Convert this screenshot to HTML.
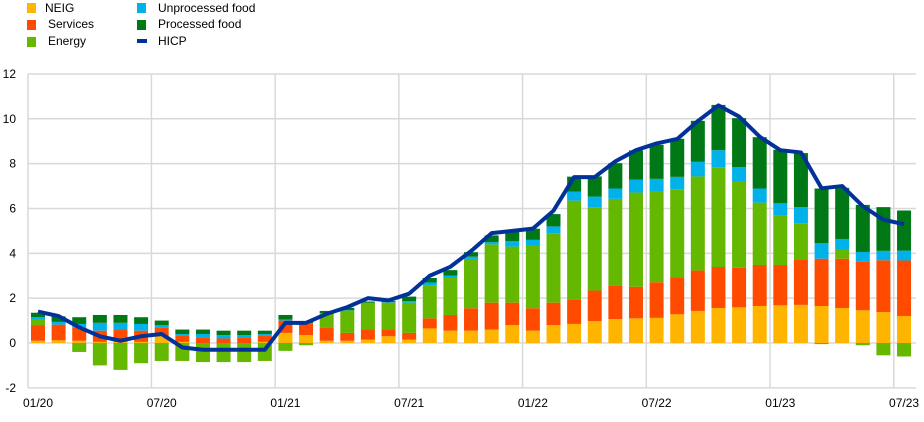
<!DOCTYPE html>
<html><head><meta charset="utf-8"><style>
body{margin:0;background:#fff;width:924px;height:417px;overflow:hidden}
text{font-family:"Liberation Sans",sans-serif;font-size:12px;fill:#000}
</style></head><body>
<svg id="chart" width="924" height="417" xmlns="http://www.w3.org/2000/svg">
<g>
<g><rect x="27" y="3" width="9" height="10" fill="#ffb400"/><text x="45" y="12">NEIG</text></g>
<g><rect x="27" y="20" width="9" height="10" fill="#ff4b00"/><text x="48" y="28">Services</text></g>
<g><rect x="27" y="37" width="9" height="10" fill="#65b800"/><text x="48" y="45">Energy</text></g>
<g><rect x="137" y="3" width="9" height="10" fill="#00b1ea"/><text x="158" y="12">Unprocessed food</text></g>
<g><rect x="137" y="20" width="9" height="10" fill="#007816"/><text x="158" y="28">Processed food</text></g>
<g><rect x="137" y="39" width="10" height="4" fill="#003299"/><text x="158" y="45">HICP</text></g>
</g>
<g id="grid"></g><g id="bars"></g><g id="line"></g><g id="labels"></g>
</svg>
<script>
const months=["01/20","02/20","03/20","04/20","05/20","06/20","07/20","08/20","09/20","10/20","11/20","12/20","01/21","02/21","03/21","04/21","05/21","06/21","07/21","08/21","09/21","10/21","11/21","12/21","01/22","02/22","03/22","04/22","05/22","06/22","07/22","08/22","09/22","10/22","11/22","12/22","01/23","02/23","03/23","04/23","05/23","06/23","07/23"];
const tickLabels=["01/20","07/20","01/21","07/21","01/22","07/22","01/23","07/23"];
const yTicks=[-2,0,2,4,6,8,10,12];
const neig=[.1,.12,.1,.05,.05,.05,.3,.05,0,0,0,.05,.45,.35,.1,.1,.15,.3,.15,.65,.55,.55,.6,.8,.55,.8,.85,.98,1.07,1.1,1.12,1.28,1.43,1.56,1.59,1.65,1.68,1.7,1.65,1.56,1.46,1.38,1.2];
const services=[.7,.7,.6,.5,.55,.5,.4,.3,.25,.2,.25,.3,.55,.5,.6,.35,.45,.3,.3,.45,.7,1.0,1.2,1.0,1.0,1.0,1.1,1.36,1.49,1.41,1.59,1.64,1.8,1.83,1.76,1.83,1.8,2.02,2.11,2.2,2.17,2.31,2.48];
const energy=[.25,0,-.4,-1.0,-1.2,-.9,-.8,-.8,-.85,-.85,-.85,-.8,-.35,-.1,.6,1.0,1.2,1.2,1.35,1.45,1.65,2.2,2.6,2.5,2.8,3.1,4.4,3.72,3.87,4.2,4.05,3.94,4.2,4.45,3.85,2.78,2.2,1.62,-.05,.39,-.1,-.55,-.6];
const unprocessed=[.1,.12,.15,.35,.3,.3,.1,.05,.15,.15,.1,.05,.05,.03,.03,.02,0,.02,.07,.15,.1,.1,.1,.25,.25,.3,.4,.47,.46,.57,.56,.55,.65,.76,.64,.63,.55,.72,.7,.49,.43,.42,.44];
const processed=[.2,.25,.3,.35,.35,.3,.2,.2,.2,.2,.2,.15,.2,.1,.1,.1,.05,.05,.2,.2,.25,.2,.3,.45,.5,.55,.67,.9,1.13,1.31,1.52,1.7,1.83,2.02,2.19,2.29,2.39,2.41,2.43,2.28,2.1,1.95,1.79];
const hicp=[1.4,1.2,.7,.3,.1,.3,.4,-.2,-.3,-.3,-.3,-.3,.9,.9,1.3,1.6,2.0,1.9,2.2,3.0,3.4,4.1,4.9,5.0,5.1,5.9,7.4,7.4,8.1,8.6,8.9,9.1,9.9,10.6,10.1,9.2,8.6,8.5,6.9,7.0,6.1,5.5,5.3];
const NS="http://www.w3.org/2000/svg";
const X0=38,DX=20.62,Y0=343,UY=22.42,L=28,R=916,BW=14;
const xs=i=>X0+i*DX, ys=v=>Y0-v*UY;
function mk(tag,attrs,parent){const e=document.createElementNS(NS,tag);for(const k in attrs)e.setAttribute(k,attrs[k]);parent.appendChild(e);return e;}
const grid=document.getElementById('grid'),bars=document.getElementById('bars'),lab=document.getElementById('labels'),ln=document.getElementById('line');
yTicks.forEach(v=>{
 const g=mk('line',{x1:L,x2:R,y1:ys(v),y2:ys(v),stroke:'#d9d9d9','stroke-width':1.5},grid);
 
 
 const t=mk('text',{x:16,y:ys(v)+4,'text-anchor':'end'},lab);t.textContent=v;
 
 
});
mk('line',{x1:L,x2:L,y1:ys(12),y2:ys(-2),stroke:'#d9d9d9','stroke-width':1.5},grid);
tickLabels.forEach(s=>{
 const i=months.indexOf(s);
 const gx=xs(i)-DX/2;
 if(i>0){const g=mk('line',{x1:gx,x2:gx,y1:ys(12),y2:ys(-2),stroke:'#d9d9d9','stroke-width':1.5},grid);
 
 }
 const t=mk('text',{x:xs(i),y:407,'text-anchor':'middle'},lab);t.textContent=s;
 
 
});
const series=[[neig,'#ffb400','neig'],[services,'#ff4b00','services'],[energy,'#65b800','energy'],[unprocessed,'#00b1ea','unprocessed-food'],[processed,'#007816','processed-food']];
months.forEach((m,i)=>{
 let pos=0,neg=0;
 series.forEach(([arr,c,n])=>{
  const v=arr[i];if(!v)return;
  let a,b;
  if(v>0){a=pos;b=pos+v;pos=b;}else{a=neg+v;b=neg;neg=a;}
  const r=mk('rect',{x:xs(i)-BW/2,y:ys(b),width:BW,height:Math.max(0.5,ys(a)-ys(b)),fill:c},bars);
  
  
 });
});
const p=mk('polyline',{points:hicp.map((v,i)=>xs(i)+','+ys(v)).join(' '),fill:'none',stroke:'#003299','stroke-width':4,'stroke-linejoin':'round'},ln);


</script>
</body></html>
